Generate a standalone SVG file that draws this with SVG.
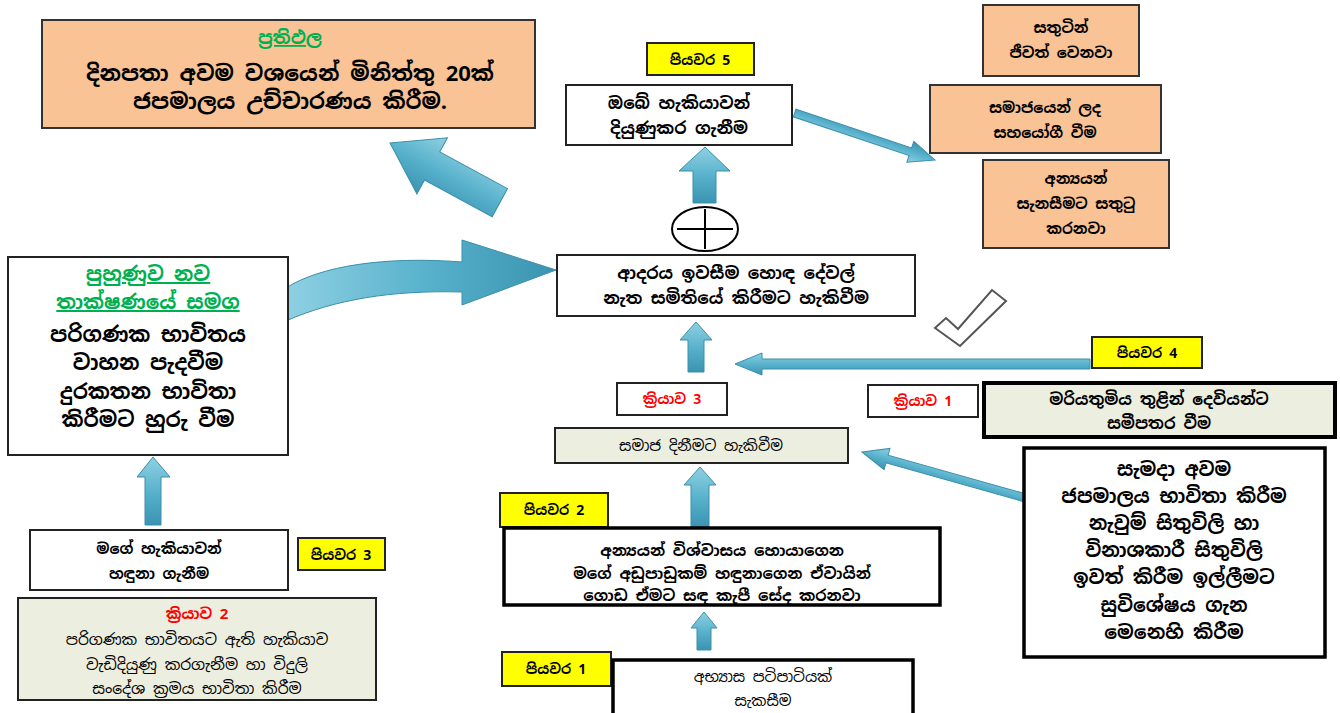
<svg xmlns="http://www.w3.org/2000/svg" width="1340" height="713" viewBox="0 0 1340 713">
<defs>
<linearGradient id="bl" x1="0" y1="0" x2="0" y2="1">
<stop offset="0" stop-color="#8fd0e2"/><stop offset="0.5" stop-color="#5ab3cd"/><stop offset="1" stop-color="#3a93b0"/>
</linearGradient>
<linearGradient id="bh" x1="0" y1="0" x2="1" y2="0">
<stop offset="0" stop-color="#8fd0e2"/><stop offset="0.5" stop-color="#5ab3cd"/><stop offset="1" stop-color="#3a93b0"/>
</linearGradient>
<style>
text{font-family:"Noto Sans Sinhala","Noto Sans","DejaVu Sans",sans-serif;text-anchor:middle;fill:#000}
.b{font-weight:bold}
.org{fill:#f9c396;stroke:#333;stroke-width:2}
.wht{fill:#fff;stroke:#222;stroke-width:2}
.thk{fill:#fff;stroke:#000;stroke-width:3.5}
.grn{fill:#ecefe0;stroke:#222;stroke-width:2}
.grk{fill:#ecefe0;stroke:#000;stroke-width:4}
.yel{fill:#ffff00;stroke:#222;stroke-width:2}
.arr{fill:url(#bl);stroke:#3a8fab;stroke-width:1}
.arh{fill:url(#bh);stroke:#3a8fab;stroke-width:1}
.gt{fill:#00b050;font-weight:bold;text-decoration:underline}
.rt{fill:#ff0000;font-weight:bold}
</style>
</defs>

<g id="connectors">
<polygon class="arr" points="705,147 730,171 716,171 716,203 693,203 693,171 679,171"/>
<polygon class="arr" points="696,322 712,340 704,340 704,372 688,372 688,340 680,340"/>
<polygon class="arr" points="700,467 716,485 709,485 709,527 691,527 691,485 684,485"/>
<polygon class="arr" points="704,612 717,628 711,628 711,650 697,650 697,628 691,628"/>
<polygon class="arr" points="153,457 170,477 161,477 161,525 145,525 145,477 137,477"/>
<polygon class="arr" transform="translate(390,143) rotate(28.5)" points="0,0 48,-32 48,-16 125,-16 125,16 48,16 48,32"/>
<path class="arh" d="M286,288 C320,266 385,256 462,262 L462,240 L556,270 L462,305 L462,292 C390,290 335,300 288,320 Z"/>
<polygon class="arr" transform="translate(935,160) rotate(198.5)" points="0,0 26,-11 26,-4 148,-4 148,4 26,4 26,11"/>
<polygon class="arr" points="735,364 762,353 762,359 1090,359 1090,369 762,369 762,375"/>
<polygon class="arr" transform="translate(862,452) rotate(15.7)" points="0,0 26,-11 26,-4 168,-4 168,4 26,4 26,11"/>
<polygon points="935,328 946,318 958,329 992,290 1006,301 960,346" fill="#fff" stroke="#555" stroke-width="2"/>
<g id="plus">
<ellipse cx="705" cy="229" rx="33" ry="22" fill="#fff" stroke="#000" stroke-width="2"/>
<line x1="677" y1="229" x2="733" y2="229" stroke="#000" stroke-width="2"/>
<line x1="705" y1="209" x2="705" y2="249" stroke="#000" stroke-width="2"/>
</g>
</g>

<g id="results">
<rect class="org" x="42" y="20" width="493" height="108"/>
<text class="gt" x="290" y="44" font-size="18">ප්‍රතිඵල</text>
<text class="b" x="290" y="81" font-size="22">දිනපතා අවම වශයෙන් මිනිත්තු 20ක්</text>
<text class="b" x="290" y="109" font-size="22">ජපමාලය උච්චාරණය කිරීම.</text>
</g>

<g id="step5-label"><rect class="yel" x="647" y="43" width="107" height="32"/><text class="b" x="700" y="65" font-size="14">පියවර 5</text></g>
<g id="step5"><rect class="wht" x="566" y="85" width="226" height="60"/>
<text class="b" x="679" y="109" font-size="17">ඔබේ හැකියාවන්</text>
<text class="b" x="679" y="134" font-size="17">දියුණුකර ගැනීම</text></g>

<g id="happy"><rect class="org" x="983" y="5" width="156" height="71"/>
<text class="b" x="1061" y="33" font-size="15">සතුටින්</text>
<text class="b" x="1061" y="58" font-size="15">ජීවත් වෙනවා</text></g>
<g id="society"><rect class="org" x="930" y="85" width="231" height="68"/>
<text class="b" x="1045" y="113" font-size="15">සමාජයෙන් ලද</text>
<text class="b" x="1045" y="138" font-size="15">සහයෝගී වීම</text></g>
<g id="others"><rect class="org" x="983" y="160" width="186" height="88"/>
<text class="b" x="1076" y="184" font-size="15">අන්‍යයන්</text>
<text class="b" x="1076" y="209" font-size="15">සැනසීමට සතුටු</text>
<text class="b" x="1076" y="234" font-size="15">කරනවා</text></g>

<g id="center"><rect class="wht" x="557" y="255" width="358" height="61"/>
<text class="b" x="736" y="279" font-size="17">ආදරය ඉවසීම හොඳ දේවල්</text>
<text class="b" x="736" y="304" font-size="17">නැත සමිතියේ කිරීමට හැකිවීම</text></g>

<g id="training"><rect class="wht" x="8" y="257" width="280" height="198"/>
<text class="gt" x="148" y="281" font-size="20">පුහුණුව නව</text>
<text class="gt" x="148" y="309" font-size="20">තාක්ෂණයේ සමග</text>
<text class="b" x="148" y="342" font-size="21">පරිගණක භාවිතය</text>
<text class="b" x="148" y="370" font-size="21">වාහන පැදවීම</text>
<text class="b" x="148" y="399" font-size="21">දුරකතන භාවිතා</text>
<text class="b" x="148" y="427" font-size="21">කිරීමට හුරු වීම</text></g>

<g id="identify"><rect class="wht" x="30" y="530" width="258" height="60"/>
<text class="b" x="159" y="554" font-size="15">මගේ හැකියාවන්</text>
<text class="b" x="159" y="579" font-size="15">හඳුනා ගැනීම</text></g>
<g id="step3-label"><rect class="yel" x="298" y="538" width="87" height="32"/><text class="b" x="341" y="560" font-size="14">පියවර 3</text></g>

<g id="action2"><rect class="grn" x="18" y="598" width="358" height="102"/>
<text class="rt" x="197" y="619" font-size="15">ක්‍රියාව 2</text>
<text x="197" y="645" font-size="15.5">පරිගණක භාවිතයට ඇති හැකියාව</text>
<text x="197" y="670" font-size="15.5">වැඩිදියුණු කරගැනීම හා විදුලි</text>
<text x="197" y="694" font-size="15.5">සංදේශ ක්‍රමය භාවිතා කිරීම</text></g>

<g id="step4-label"><rect class="yel" x="1092" y="337" width="110" height="31"/><text class="b" x="1147" y="358" font-size="14">පියවර 4</text></g>

<g id="action3-label"><rect class="wht" x="617" y="383" width="110" height="32"/><text class="rt" x="672" y="404" font-size="14">ක්‍රියාව 3</text></g>
<g id="action1-label"><rect class="wht" x="868" y="385" width="110" height="32"/><text class="rt" x="923" y="406" font-size="14">ක්‍රියාව 1</text></g>

<g id="action1"><rect class="grk" x="984" y="383" width="351" height="54"/>
<text class="b" x="1159" y="405" font-size="16">මරියතුමිය තුළින් දෙවියන්ට</text>
<text class="b" x="1159" y="429" font-size="16">සමීපතර වීම</text></g>

<g id="action3"><rect class="grn" x="555" y="428" width="293" height="35"/>
<text x="701" y="451" font-size="15">සමාජ දිනීමට හැකිවීම</text></g>

<g id="rosary"><rect class="thk" x="1024" y="448" width="301" height="209"/>
<text class="b" x="1174" y="476" font-size="19">සැමදා අවම</text>
<text class="b" x="1174" y="503" font-size="19">ජපමාලය භාවිතා කිරීම</text>
<text class="b" x="1174" y="530" font-size="19">නැවුම් සිතුවිලි හා</text>
<text class="b" x="1174" y="557" font-size="19">විනාශකාරී සිතුවිලි</text>
<text class="b" x="1174" y="584" font-size="19">ඉවත් කිරීම ඉල්ලීමට</text>
<text class="b" x="1174" y="612" font-size="19">සුවිශේෂය ගැන</text>
<text class="b" x="1174" y="639" font-size="19">මෙනෙහි කිරීම</text></g>

<g id="step2-label"><rect class="yel" x="500" y="493" width="108" height="34"/><text class="b" x="554" y="515" font-size="14">පියවර 2</text></g>
<g id="step2"><rect class="thk" x="504" y="528" width="436" height="77"/>
<text class="b" x="722" y="556" font-size="15.5">අන්‍යයන් විශ්වාසය හොයාගෙන</text>
<text class="b" x="722" y="579" font-size="15.5">මගේ අඩුපාඩුකම් හඳුනාගෙන ඒවායින්</text>
<text class="b" x="722" y="601" font-size="15.5">ගොඩ ඒමට සඳ කැපී සේද කරනවා</text></g>

<g id="step1-label"><rect class="yel" x="502" y="652" width="109" height="34"/><text class="b" x="556" y="674" font-size="14">පියවර 1</text></g>
<g id="step1"><rect class="thk" x="613" y="660" width="300" height="60"/>
<text x="763" y="682" font-size="15">අභ්‍යාස පටිපාටියක්</text>
<text x="763" y="706" font-size="15">සැකසීම</text></g>
</svg>
